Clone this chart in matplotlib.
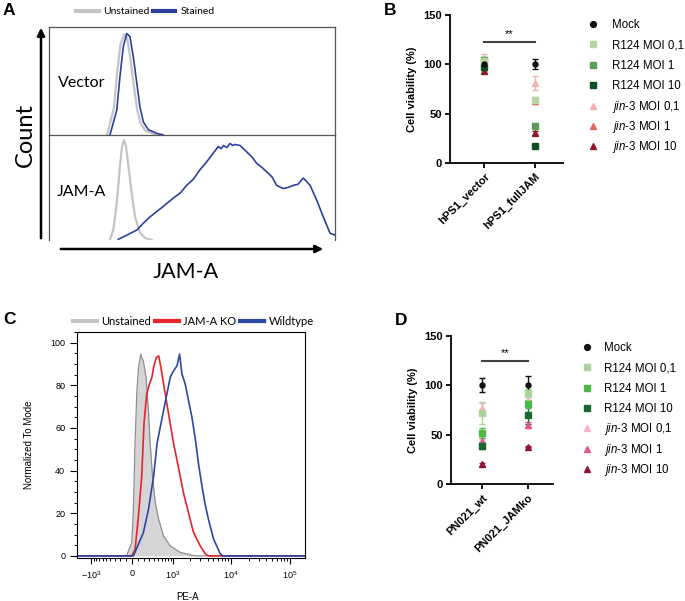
import matplotlib
matplotlib.use("Agg")
import matplotlib.pyplot as plt
from matplotlib.lines import Line2D
from matplotlib.ticker import FixedLocator, MultipleLocator

plt.rcParams['font.family'] = ['Liberation Sans', 'DejaVu Sans']
plt.rcParams['mathtext.fontset'] = 'custom'
plt.rcParams['mathtext.rm'] = 'Liberation Sans'
plt.rcParams['mathtext.it'] = 'Liberation Sans:italic'

W, H = 685, 601
fig = plt.figure(figsize=(W / 100, H / 100), dpi=100)


def px_axes(l, t, r, b):
    # axes placed by pixel box (left, top, right, bottom)
    return fig.add_axes([l / W, 1 - b / H, (r - l) / W, (b - t) / H])


# ---------------- data ----------------
# panel A : histograms, x = relative JAM-A signal (0-100), y = fraction of mode
vec_unst_x = [20.3, 22.7, 23.8, 25.0, 26.3, 27.3, 28.5, 29.7, 30.8, 32.0, 33.7, 36.5, 38.5]
vec_unst_y = [0, 0.25, 0.57, 0.84, 0.93, 0.90, 0.70, 0.45, 0.24, 0.11, 0.04, 0.01, 0]
vec_st_x = [21.3, 23.7, 24.8, 26.0, 27.2, 28.3, 29.5, 30.7, 31.8, 33.0, 34.7, 37.7, 40.0]
vec_st_y = [0, 0.23, 0.54, 0.82, 0.94, 0.91, 0.72, 0.48, 0.26, 0.12, 0.05, 0.015, 0]
jam_unst_x = [21.3, 22.5, 23.7, 24.8, 25.5, 26.2, 26.9, 27.7, 28.9, 30.1, 31.8, 33.6, 35.9]
jam_unst_y = [0, 0.10, 0.35, 0.70, 0.88, 0.95, 0.90, 0.72, 0.45, 0.22, 0.07, 0.02, 0]
jam_st_x = [24.2, 27.5, 30.7, 33.0, 35.3, 39.5, 43.5, 46.0, 48.1, 50.5, 52.8, 55.0, 57.5, 59.2,
            60.2, 61.0, 62.2, 63.3, 64.2, 65.0, 66.8, 69.1, 71.0, 72.6, 74.5, 76.1, 78.0,
            79.6, 81.9, 83.5, 85.4, 87.0, 88.9, 90.0, 91.3, 93.6, 95.9, 98.3, 100]
jam_st_y = [0.006, 0.05, 0.095, 0.16, 0.22, 0.31, 0.40, 0.45, 0.52, 0.58, 0.67, 0.74, 0.83,
            0.89, 0.87, 0.90, 0.88, 0.92, 0.90, 0.91, 0.90, 0.84, 0.79, 0.73, 0.69, 0.65,
            0.60, 0.52, 0.49, 0.50, 0.52, 0.53, 0.59, 0.56, 0.52, 0.38, 0.22, 0.063, 0.048]

# panel C : PE-A histograms, normalized to mode
unst_x = [-1780, -150, -87, -5.5, 22, 49, 77, 105, 145, 162, 191, 241, 287, 322, 373, 436,
          520, 658, 883, 1348, 2015, 2500, 1.8e5]
unst_y = [0, 0, 0.3, 6.2, 21.7, 52.7, 75.9, 88.0, 94.6, 93.0, 91.5, 83.7, 68.2, 52.7, 37.2,
          24.8, 17.0, 9.3, 4.7, 1.6, 0.5, 0, 0]
ko_x = [-1780, -5.5, 49, 105, 162, 203, 253, 308, 358, 396, 460, 520, 563, 609, 658, 764,
        883, 1020, 1175, 1348, 1541, 1762, 2015, 2300, 2990, 3640, 4146, 1.8e5]
ko_y = [0, 0, 3, 18.5, 37.2, 62.1, 75.9, 80.6, 83.7, 88.4, 93.0, 93.8, 89.9, 85.3, 80.6, 71.3,
        62.1, 52.7, 45.0, 37.2, 29.4, 23.2, 17.0, 10.9, 4.7, 1.0, 0, 0]
wt_x = [-1780, 22, 191, 287, 396, 478, 563, 658, 764, 883, 1020, 1175, 1311, 1441, 1647,
        1883, 2152, 2457, 2802, 3192, 3640, 4146, 5040, 6543, 7300, 1.8e5]
wt_y = [0, 0, 10.9, 21.7, 37.2, 52.7, 60.5, 68.2, 75.9, 83.7, 86.8, 89.1, 94.6, 85.3, 80.6,
        72.8, 65.1, 55.0, 43.0, 33.0, 24.0, 17.0, 8.0, 1.0, 0, 0]

# panels B / D : cell viability (%) mean and sd, one value per cell line
series = ['Mock', 'R124 MOI 0,1', 'R124 MOI 1', 'R124 MOI 10',
          r'$\it{jin}$-3 MOI 0,1', r'$\it{jin}$-3 MOI 1', r'$\it{jin}$-3 MOI 10']
markers = ['o', 's', 's', 's', '^', '^', '^']

b_cats = ['hPS1_vector', 'hPS1_fullJAM']
b_mean = [[100, 100], [103, 64], [104, 37], [97, 17], [104, 81], [98, 63], [93, 30]]
b_sd = [[5, 5], [4, 3], [3, 2], [3, 1.5], [6, 7], [4, 3], [2, 2]]
b_colors = ['#111111', '#b8d4a0', '#5c9c54', '#0c4f22', '#f0b4ae', '#dc6e64', '#8e1c28']

d_cats = ['PN021_wt', 'PN021_JAMko']
d_mean = [[100, 100], [72, 92], [52, 81], [39, 70], [77, 84], [44, 60], [20, 38]]
d_sd = [[7, 9], [11.5, 4], [5, 4], [3.5, 9], [5, 4], [3, 3], [1.5, 1]]
d_colors = ['#111111', '#a9d59b', '#4db848', '#17692f', '#f4b3c8', '#e05a88', '#8a1444']

sig_level = {'B': 122.6, 'D': 124.7}

# overlay in pixel coordinates, for panel letters, arrows and legends
ov = fig.add_axes([0, 0, 1, 1])
ov.set_xlim(0, W)
ov.set_ylim(H, 0)
ov.axis('off')
ov.set_zorder(10)
ov.patch.set_alpha(0)

# ---------------- panel A ----------------
gray_a = '#c4c4c4'
blue_a = '#2f3f9e'
axA1 = px_axes(49, 27, 335, 135)
axA2 = px_axes(49, 135, 335, 240)
axA1.plot(vec_unst_x, vec_unst_y, color=gray_a, lw=1.6)
axA1.plot(vec_st_x, vec_st_y, color=blue_a, lw=1.2)
axA2.plot(jam_unst_x, jam_unst_y, color=gray_a, lw=1.6)
axA2.plot(jam_st_x, jam_st_y, color=blue_a, lw=1.2)
for a in (axA1, axA2):
    a.set_xlim(0, 100)
    a.set_ylim(0, 1)
    a.set_xticks([])
    a.set_yticks([])
    a.patch.set_visible(False)
    for s in a.spines.values():
        s.set_color('#555555')
        s.set_linewidth(0.9)
axA2.spines['top'].set_visible(False)
axA2.spines['bottom'].set_visible(False)

# ---------------- panel C ----------------
axC = px_axes(77, 332, 305, 558)
axC.set_xscale('asinh', linear_width=420)
axC.fill_between(unst_x, unst_y, color='#d5d5d5', lw=0)
axC.plot(unst_x, unst_y, color='#8e8e8e', lw=0.9)
axC.plot(ko_x, ko_y, color='#e8232b', lw=1.2)
axC.plot(wt_x, wt_y, color='#2b48a6', lw=1.2)
axC.set_xlim(-1780, 1.8e5)
axC.set_ylim(-1, 105)
axC.set_xticks([-1000, 0, 1000, 1e4, 1e5],
               labels=['$-10^3$', '0', '$10^3$', '$10^4$', '$10^5$'])
minors = ([-v for v in range(100, 1000, 100)] + list(range(100, 1000, 100)) +
          list(range(2000, 10000, 1000)) + list(range(20000, 100000, 10000)))
axC.xaxis.set_minor_locator(FixedLocator(minors))
axC.xaxis.set_minor_formatter(plt.NullFormatter())
axC.set_yticks([0, 20, 40, 60, 80, 100])
axC.yaxis.set_minor_locator(MultipleLocator(5))
axC.tick_params(axis='both', which='major', labelsize=6.5, width=0.8, direction='out')
axC.tick_params(axis='y', which='major', length=5, pad=3.5)
axC.tick_params(axis='x', which='major', length=4.5, pad=3.5)
axC.tick_params(axis='both', which='minor', length=2.5, width=0.7)
for s in axC.spines.values():
    s.set_linewidth(0.8)
axC.set_xlabel('PE-A', fontsize=7)
axC.xaxis.set_label_coords(0.487, -0.15)
axC.set_ylabel('Normalized To Mode', fontsize=7)
axC.yaxis.set_label_coords(-0.19, 0.5)


# ---------------- panels B / D ----------------
def viability(box, cats, means, sds, colors, sig, key_x, text_x, top, step):
    ax = px_axes(*box)
    order = [6, 5, 4, 3, 2, 1, 0]
    for i in order:
        ax.errorbar([0, 1], means[i], yerr=sds[i], fmt='none', ecolor=colors[i],
                    elinewidth=1, capsize=2.5, capthick=1, zorder=2)
        ax.plot([0, 1], means[i], ls='none', marker=markers[i], color=colors[i],
                ms=3.8 if markers[i] != 'o' else 3.6, zorder=3)
    ax.set_xlim(-0.68, 1.56)
    ax.set_ylim(0, 150)
    ax.set_yticks([0, 50, 100, 150])
    ax.set_xticks([0, 1], labels=cats, rotation=45, ha='right', rotation_mode='anchor')
    ax.tick_params(axis='both', width=1.3, length=3.5, labelsize=8, pad=2.5)
    for lbl in ax.get_xticklabels() + ax.get_yticklabels():
        lbl.set_fontweight('bold')
    for side in ('top', 'right'):
        ax.spines[side].set_visible(False)
    for side in ('left', 'bottom'):
        ax.spines[side].set_linewidth(1.3)
    ax.set_ylabel('Cell viability (%)', fontsize=8, fontweight='bold', labelpad=4)
    ax.plot([0, 1], [sig, sig], color='#404040', lw=1.5, clip_on=False)
    ax.text(0.5, sig + 3, '**', ha='center', va='bottom', fontsize=8)
    # legend: one key + label per series, even row spacing
    for i, (m, c, lab) in enumerate(zip(markers, colors, series)):
        y = top + i * step
        ov.plot([key_x], [y], ls='none', marker=m, color=c, ms=4.2)
        ov.text(text_x, y + 4, lab, fontsize=8.3, ha='left', va='baseline')
    return ax


viability((450, 15, 563, 163), b_cats, b_mean, b_sd, b_colors, sig_level['B'],
          593, 612, 24, 20.4)
viability((451, 336, 553, 484), d_cats, d_mean, d_sd, d_colors, sig_level['D'],
          587, 604, 347, 20.3)

# ---------------- overlay texts ----------------
for letter, x, y in [('A', 3, 3), ('B', 384, 3), ('C', 3, 312), ('D', 395, 313)]:
    ov.text(x, y, letter, fontsize=12.5, fontweight='bold', ha='left', va='top')

ov.annotate('', xy=(41, 25), xytext=(41, 241),
            arrowprops=dict(arrowstyle='-|>', color='black', lw=1.8, mutation_scale=11))
ov.annotate('', xy=(326, 249), xytext=(58, 249),
            arrowprops=dict(arrowstyle='-|>', color='black', lw=1.8, mutation_scale=11))
ov.text(25, 135, 'Count', rotation=90, fontsize=17, family='Lato', ha='center', va='center')
ov.text(186, 272, 'JAM-A', fontsize=15.5, family='Lato', ha='center', va='center')
ov.text(58, 83, 'Vector', fontsize=11.5, family='Lato', ha='left', va='center')
ov.text(57, 192, 'JAM-A', fontsize=11.5, family='Lato', ha='left', va='center')

legA = ov.legend([Line2D([], [], color=gray_a, lw=3), Line2D([], [], color=blue_a, lw=3)],
                 ['Unstained', 'Stained'], loc='upper left', ncol=2,
                 bbox_to_anchor=(76 / W, 1 - 7 / H), bbox_transform=fig.transFigure,
                 frameon=False, prop={'family': 'Lato', 'size': 7.5},
                 handlelength=2.2, handletextpad=0.45, columnspacing=0.25,
                 borderpad=0, borderaxespad=0)
ov.add_artist(legA)
ov.legend([Line2D([], [], color='#c4c4c4', lw=3), Line2D([], [], color='#e8232b', lw=3),
           Line2D([], [], color='#2b48a6', lw=3)],
          ['Unstained', 'JAM-A KO', 'Wildtype'], loc='upper left', ncol=3,
          bbox_to_anchor=(73 / W, 1 - 316 / H), bbox_transform=fig.transFigure,
          frameon=False, prop={'family': 'Lato', 'size': 8},
          handlelength=2.15, handletextpad=0.4, columnspacing=0.35,
          borderpad=0, borderaxespad=0)

fig.savefig('out.png', dpi=100)
